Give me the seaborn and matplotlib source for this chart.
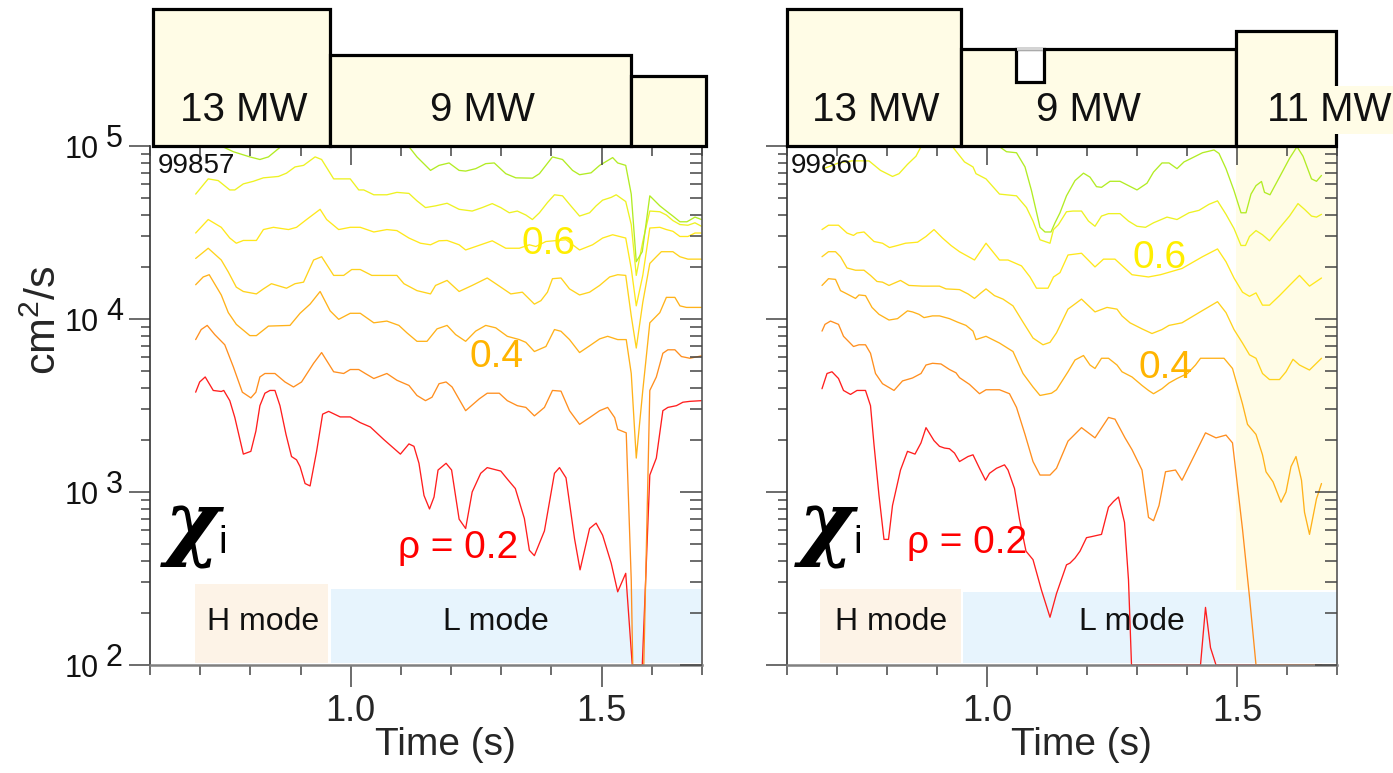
import numpy as np
import pandas as pd
import matplotlib
matplotlib.use("Agg")
import matplotlib.pyplot as plt
import matplotlib.transforms as mtransforms
from matplotlib.ticker import FixedLocator, NullFormatter, LogLocator
import seaborn as sns

# ---------------------------------------------------------------- data
time_ticks_major = [1.0, 1.5]
time_tick_labels = ["1.0", "1.5"]
time_ticks_minor = [0.6, 0.7, 0.8, 0.9, 1.1, 1.2, 1.3, 1.4, 1.6, 1.7]
chi_decades = [1e2, 1e3, 1e4, 1e5]
chi_decade_exponents = ["2", "3", "4", "5"]
rho_levels = ["0.2", "0.3", "0.4", "0.5", "0.6", "0.7", "0.8"]
rho_colors = ["#ff1e1e", "#ff8f1f", "#ffb21a", "#ffd31c", "#ffe81c", "#eef222", "#b2ec24"]

# shot 99857 : (time [s], log10 chi_i [cm^2/s])
s99857_rho02 = [(0.691, 3.577), (0.699, 3.636), (0.710, 3.665), (0.726, 3.587), (0.742, 3.581), (0.747, 3.587),
                (0.759, 3.528), (0.769, 3.431), (0.786, 3.219), (0.801, 3.235), (0.811, 3.352), (0.819, 3.499),
                (0.829, 3.571), (0.839, 3.587), (0.849, 3.587), (0.859, 3.499), (0.871, 3.333), (0.882, 3.205),
                (0.892, 3.186), (0.899, 3.147), (0.909, 3.049), (0.919, 3.035), (0.932, 3.235), (0.944, 3.450),
                (0.956, 3.466), (0.979, 3.434), (0.999, 3.434), (1.019, 3.401), (1.039, 3.376), (1.066, 3.303),
                (1.099, 3.219), (1.116, 3.278), (1.126, 3.264), (1.136, 3.166), (1.146, 2.980), (1.157, 2.902),
                (1.166, 2.971), (1.174, 3.127), (1.190, 3.166), (1.201, 3.127), (1.216, 2.843), (1.229, 2.789),
                (1.242, 3.000), (1.259, 3.108), (1.272, 3.141), (1.299, 3.121), (1.314, 3.068), (1.328, 3.020),
                (1.346, 2.847), (1.356, 2.663), (1.366, 2.632), (1.386, 2.775), (1.406, 3.108), (1.416, 3.141),
                (1.429, 3.082), (1.446, 2.730), (1.457, 2.550), (1.476, 2.789), (1.489, 2.820), (1.502, 2.750),
                (1.519, 2.589), (1.532, 2.423), (1.548, 2.530), (1.561, 2.000), (1.581, 2.000), (1.596, 3.098),
                (1.609, 3.196), (1.622, 3.470), (1.632, 3.489), (1.649, 3.499), (1.662, 3.519), (1.676, 3.524),
                (1.699, 3.528)]
s99857_rho03 = [(0.691, 3.881), (0.702, 3.939), (0.714, 3.963), (0.729, 3.910), (0.749, 3.851), (0.766, 3.724),
                (0.784, 3.577), (0.801, 3.544), (0.811, 3.577), (0.819, 3.665), (0.829, 3.685), (0.849, 3.685),
                (0.869, 3.636), (0.886, 3.607), (0.902, 3.636), (0.926, 3.744), (0.942, 3.806), (0.966, 3.695),
                (0.986, 3.685), (0.999, 3.708), (1.016, 3.708), (1.029, 3.685), (1.046, 3.656), (1.072, 3.685),
                (1.092, 3.646), (1.116, 3.616), (1.132, 3.558), (1.149, 3.528), (1.162, 3.548), (1.176, 3.626),
                (1.190, 3.636), (1.202, 3.607), (1.229, 3.470), (1.256, 3.538), (1.272, 3.571), (1.296, 3.571),
                (1.312, 3.528), (1.332, 3.499), (1.349, 3.489), (1.366, 3.440), (1.386, 3.489), (1.402, 3.587),
                (1.419, 3.583), (1.436, 3.470), (1.456, 3.391), (1.476, 3.430), (1.496, 3.470), (1.512, 3.489),
                (1.526, 3.430), (1.532, 3.362), (1.549, 3.342), (1.559, 2.491), (1.562, 2.000), (1.584, 2.000),
                (1.596, 3.587), (1.609, 3.665), (1.622, 3.802), (1.632, 3.822), (1.646, 3.822), (1.659, 3.783),
                (1.676, 3.773), (1.699, 3.787)]
s99857_rho04 = [(0.691, 4.198), (0.706, 4.243), (0.718, 4.256), (0.742, 4.139), (0.756, 4.037), (0.772, 3.969),
                (0.799, 3.904), (0.812, 3.904), (0.836, 3.959), (0.879, 3.963), (0.899, 4.033), (0.919, 4.086),
                (0.939, 4.159), (0.959, 4.047), (0.976, 3.998), (0.999, 4.033), (1.019, 4.033), (1.046, 3.978),
                (1.072, 3.988), (1.096, 3.963), (1.112, 3.920), (1.132, 3.871), (1.152, 3.871), (1.172, 3.943),
                (1.192, 3.963), (1.209, 3.910), (1.229, 3.871), (1.249, 3.930), (1.269, 3.963), (1.289, 3.949),
                (1.312, 3.900), (1.336, 3.881), (1.349, 3.865), (1.366, 3.812), (1.389, 3.841), (1.406, 3.939),
                (1.419, 3.929), (1.436, 3.881), (1.456, 3.806), (1.476, 3.845), (1.496, 3.885), (1.512, 3.900),
                (1.532, 3.881), (1.549, 3.881), (1.559, 3.685), (1.569, 3.196), (1.582, 3.587), (1.596, 3.978),
                (1.616, 4.037), (1.629, 4.125), (1.646, 4.125), (1.656, 4.076), (1.669, 4.067), (1.699, 4.067)]
s99857_rho05 = [(0.691, 4.350), (0.716, 4.409), (0.742, 4.341), (0.756, 4.272), (0.772, 4.184), (0.786, 4.159),
                (0.812, 4.145), (0.826, 4.174), (0.842, 4.204), (0.872, 4.178), (0.889, 4.204), (0.906, 4.213),
                (0.926, 4.341), (0.942, 4.360), (0.966, 4.252), (0.986, 4.252), (1.002, 4.286), (1.019, 4.286),
                (1.042, 4.252), (1.092, 4.252), (1.106, 4.204), (1.132, 4.164), (1.159, 4.145), (1.169, 4.194),
                (1.192, 4.223), (1.216, 4.159), (1.242, 4.194), (1.272, 4.237), (1.289, 4.204), (1.319, 4.145),
                (1.342, 4.155), (1.366, 4.086), (1.379, 4.106), (1.392, 4.155), (1.402, 4.233), (1.419, 4.237),
                (1.436, 4.174), (1.456, 4.139), (1.476, 4.155), (1.496, 4.194), (1.516, 4.243), (1.532, 4.256),
                (1.548, 4.252), (1.559, 4.018), (1.569, 3.832), (1.582, 4.096), (1.596, 4.321), (1.609, 4.360),
                (1.619, 4.389), (1.642, 4.389), (1.656, 4.360), (1.672, 4.346), (1.699, 4.346)]
s99857_rho06 = [(0.691, 4.497), (0.716, 4.575), (0.742, 4.530), (0.759, 4.468), (0.772, 4.438), (0.786, 4.454),
                (0.812, 4.454), (0.826, 4.517), (0.846, 4.530), (0.876, 4.517), (0.892, 4.530), (0.912, 4.575),
                (0.939, 4.634), (0.952, 4.575), (0.976, 4.517), (0.999, 4.530), (1.019, 4.530), (1.046, 4.503),
                (1.072, 4.517), (1.092, 4.511), (1.116, 4.468), (1.139, 4.438), (1.159, 4.429), (1.176, 4.452),
                (1.192, 4.454), (1.216, 4.429), (1.229, 4.399), (1.249, 4.419), (1.282, 4.452), (1.309, 4.409),
                (1.336, 4.409), (1.356, 4.429), (1.369, 4.419), (1.389, 4.448), (1.429, 4.458), (1.456, 4.399),
                (1.482, 4.429), (1.502, 4.468), (1.522, 4.487), (1.548, 4.468), (1.559, 4.292), (1.569, 4.076),
                (1.582, 4.252), (1.596, 4.526), (1.616, 4.530), (1.629, 4.517), (1.642, 4.507), (1.656, 4.477),
                (1.672, 4.477), (1.686, 4.497), (1.699, 4.497)]
s99857_rho07 = [(0.691, 4.722), (0.716, 4.810), (0.736, 4.800), (0.759, 4.746), (0.769, 4.746), (0.786, 4.781),
                (0.806, 4.796), (0.826, 4.816), (0.856, 4.824), (0.872, 4.843), (0.889, 4.879), (0.906, 4.888),
                (0.929, 4.937), (0.942, 4.922), (0.966, 4.810), (0.999, 4.810), (1.016, 4.746), (1.026, 4.746),
                (1.046, 4.718), (1.072, 4.718), (1.092, 4.732), (1.116, 4.726), (1.132, 4.683), (1.149, 4.644),
                (1.169, 4.654), (1.192, 4.669), (1.216, 4.634), (1.242, 4.624), (1.262, 4.644), (1.282, 4.667),
                (1.299, 4.644), (1.316, 4.614), (1.332, 4.624), (1.349, 4.601), (1.362, 4.575), (1.376, 4.614),
                (1.392, 4.673), (1.406, 4.718), (1.422, 4.712), (1.436, 4.663), (1.456, 4.595), (1.476, 4.614),
                (1.489, 4.654), (1.502, 4.687), (1.519, 4.703), (1.529, 4.718), (1.548, 4.679), (1.559, 4.546),
                (1.569, 4.252), (1.582, 4.448), (1.596, 4.624), (1.616, 4.620), (1.629, 4.601), (1.642, 4.569),
                (1.656, 4.546), (1.672, 4.542), (1.686, 4.556), (1.699, 4.536)]
s99857_rho08 = [(0.690, 5.080), (0.742, 5.000), (0.766, 4.967), (0.799, 4.937), (0.819, 4.922), (0.836, 4.937),
                (0.859, 4.992), (0.880, 5.060), (0.950, 5.100), (1.050, 5.080), (1.100, 5.030), (1.116, 4.996),
                (1.132, 4.937), (1.159, 4.859), (1.176, 4.888), (1.196, 4.902), (1.216, 4.859), (1.229, 4.855),
                (1.249, 4.869), (1.269, 4.898), (1.286, 4.902), (1.309, 4.840), (1.329, 4.816), (1.362, 4.814),
                (1.376, 4.840), (1.402, 4.937), (1.422, 4.922), (1.442, 4.859), (1.456, 4.834), (1.479, 4.845),
                (1.496, 4.888), (1.522, 4.933), (1.532, 4.902), (1.548, 4.888), (1.559, 4.722), (1.569, 4.331),
                (1.581, 4.389), (1.596, 4.712), (1.616, 4.654), (1.629, 4.624), (1.642, 4.595), (1.656, 4.562),
                (1.670, 4.562), (1.686, 4.589), (1.699, 4.575)]

# shot 99860
s99860_rho02 = [(0.670, 3.597), (0.680, 3.685), (0.690, 3.695), (0.703, 3.656), (0.713, 3.587), (0.727, 3.564),
                (0.740, 3.587), (0.757, 3.587), (0.767, 3.499), (0.774, 3.274), (0.784, 2.980), (0.794, 2.726),
                (0.803, 2.726), (0.811, 2.922), (0.827, 3.127), (0.841, 3.235), (0.856, 3.219), (0.868, 3.284),
                (0.878, 3.372), (0.894, 3.297), (0.905, 3.264), (0.915, 3.254), (0.925, 3.250), (0.935, 3.225),
                (0.945, 3.176), (0.962, 3.205), (0.972, 3.215), (0.985, 3.137), (0.997, 3.068), (1.005, 3.108),
                (1.019, 3.137), (1.035, 3.157), (1.042, 3.127), (1.055, 3.020), (1.065, 2.843), (1.078, 2.658),
                (1.092, 2.609), (1.109, 2.432), (1.126, 2.276), (1.139, 2.413), (1.159, 2.579), (1.166, 2.589),
                (1.176, 2.618), (1.186, 2.658), (1.199, 2.736), (1.209, 2.742), (1.229, 2.755), (1.243, 2.912),
                (1.253, 2.945), (1.263, 2.971), (1.275, 2.824), (1.283, 2.491), (1.289, 2.000), (1.427, 2.000),
                (1.437, 2.333), (1.447, 2.100), (1.458, 2.000), (1.669, 2.000)]
s99860_rho03 = [(0.670, 3.930), (0.676, 3.969), (0.687, 3.988), (0.703, 3.969), (0.713, 3.900), (0.733, 3.841),
                (0.744, 3.851), (0.757, 3.851), (0.767, 3.802), (0.777, 3.685), (0.791, 3.626), (0.814, 3.587),
                (0.831, 3.642), (0.851, 3.659), (0.868, 3.685), (0.878, 3.734), (0.891, 3.744), (0.908, 3.740),
                (0.925, 3.708), (0.938, 3.689), (0.945, 3.661), (0.965, 3.622), (0.985, 3.568), (0.998, 3.591),
                (1.025, 3.591), (1.045, 3.568), (1.059, 3.489), (1.076, 3.333), (1.092, 3.176), (1.106, 3.098),
                (1.126, 3.098), (1.139, 3.137), (1.162, 3.294), (1.189, 3.372), (1.216, 3.313), (1.243, 3.431),
                (1.256, 3.421), (1.276, 3.313), (1.290, 3.245), (1.310, 3.127), (1.323, 2.853), (1.333, 2.834),
                (1.344, 2.922), (1.357, 3.117), (1.377, 3.127), (1.390, 3.068), (1.417, 3.225), (1.437, 3.342),
                (1.458, 3.313), (1.478, 3.329), (1.491, 3.284), (1.511, 2.785), (1.525, 2.393), (1.538, 2.000),
                (1.669, 2.000)]
s99860_rho04 = [(0.670, 4.194), (0.683, 4.233), (0.697, 4.229), (0.707, 4.164), (0.720, 4.145), (0.737, 4.119),
                (0.744, 4.139), (0.757, 4.135), (0.770, 4.067), (0.784, 4.027), (0.804, 3.994), (0.821, 4.002),
                (0.841, 4.047), (0.851, 4.041), (0.864, 4.027), (0.874, 4.008), (0.891, 4.018), (0.905, 4.018),
                (0.925, 4.002), (0.941, 3.982), (0.958, 3.963), (0.972, 3.930), (0.978, 3.881), (0.998, 3.900),
                (1.025, 3.861), (1.052, 3.812), (1.072, 3.685), (1.092, 3.607), (1.106, 3.558), (1.129, 3.571),
                (1.139, 3.591), (1.162, 3.695), (1.176, 3.763), (1.193, 3.789), (1.206, 3.734), (1.216, 3.714),
                (1.229, 3.773), (1.243, 3.773), (1.260, 3.734), (1.270, 3.695), (1.290, 3.665), (1.310, 3.616),
                (1.323, 3.587), (1.333, 3.568), (1.350, 3.597), (1.364, 3.630), (1.380, 3.656), (1.401, 3.685),
                (1.417, 3.734), (1.427, 3.773), (1.451, 3.773), (1.474, 3.773), (1.491, 3.714), (1.511, 3.509),
                (1.521, 3.391), (1.538, 3.333), (1.551, 3.215), (1.558, 3.117), (1.572, 3.059), (1.588, 2.941),
                (1.598, 3.000), (1.608, 3.147), (1.618, 3.205), (1.629, 3.068), (1.635, 2.883), (1.645, 2.755),
                (1.659, 2.961), (1.669, 3.049)]
s99860_rho05 = [(0.670, 4.360), (0.683, 4.389), (0.697, 4.389), (0.707, 4.360), (0.720, 4.295), (0.737, 4.282),
                (0.754, 4.282), (0.767, 4.252), (0.780, 4.217), (0.791, 4.213), (0.804, 4.194), (0.827, 4.223),
                (0.844, 4.194), (0.871, 4.190), (0.905, 4.190), (0.918, 4.174), (0.945, 4.170), (0.962, 4.145),
                (0.975, 4.119), (0.988, 4.151), (0.998, 4.174), (1.015, 4.135), (1.032, 4.115), (1.052, 4.076),
                (1.072, 3.982), (1.092, 3.890), (1.112, 3.851), (1.126, 3.865), (1.139, 3.920), (1.162, 4.057),
                (1.189, 4.115), (1.216, 4.041), (1.240, 4.067), (1.260, 4.057), (1.270, 4.018), (1.286, 3.978),
                (1.310, 3.943), (1.330, 3.916), (1.350, 3.939), (1.364, 3.963), (1.390, 3.978), (1.424, 4.037),
                (1.461, 4.100), (1.478, 4.037), (1.494, 3.939), (1.511, 3.861), (1.525, 3.793), (1.538, 3.773),
                (1.551, 3.685), (1.565, 3.650), (1.585, 3.650), (1.598, 3.695), (1.612, 3.767), (1.625, 3.734),
                (1.645, 3.705), (1.669, 3.773)]
s99860_rho06 = [(0.670, 4.517), (0.683, 4.542), (0.703, 4.542), (0.720, 4.497), (0.733, 4.483), (0.740, 4.497),
                (0.754, 4.503), (0.774, 4.448), (0.791, 4.438), (0.805, 4.413), (0.821, 4.425), (0.837, 4.438),
                (0.861, 4.444), (0.878, 4.477), (0.894, 4.517), (0.911, 4.468), (0.928, 4.425), (0.945, 4.389),
                (0.975, 4.341), (0.998, 4.438), (1.025, 4.341), (1.042, 4.341), (1.069, 4.307), (1.086, 4.243),
                (1.099, 4.178), (1.122, 4.178), (1.133, 4.243), (1.146, 4.268), (1.162, 4.370), (1.189, 4.380),
                (1.216, 4.301), (1.233, 4.346), (1.256, 4.346), (1.290, 4.256), (1.323, 4.243), (1.347, 4.256),
                (1.390, 4.292), (1.431, 4.360), (1.461, 4.405), (1.478, 4.331), (1.494, 4.237), (1.511, 4.155),
                (1.525, 4.131), (1.538, 4.151), (1.551, 4.080), (1.565, 4.080), (1.585, 4.135), (1.605, 4.194),
                (1.625, 4.252), (1.645, 4.190), (1.669, 4.237)]
s99860_rho07 = [(0.673, 4.869), (0.703, 4.902), (0.730, 4.914), (0.764, 4.914), (0.787, 4.859), (0.811, 4.824),
                (0.824, 4.840), (0.841, 4.894), (0.858, 4.941), (0.868, 4.996), (0.900, 5.050), (0.931, 4.996),
                (0.955, 4.908), (0.972, 4.879), (0.978, 4.840), (0.998, 4.810), (1.025, 4.722), (1.059, 4.712),
                (1.079, 4.644), (1.092, 4.566), (1.106, 4.458), (1.126, 4.438), (1.133, 4.517), (1.143, 4.546),
                (1.159, 4.620), (1.172, 4.624), (1.189, 4.624), (1.203, 4.566), (1.216, 4.536), (1.229, 4.595),
                (1.243, 4.609), (1.266, 4.609), (1.283, 4.566), (1.300, 4.536), (1.317, 4.530), (1.333, 4.556),
                (1.360, 4.589), (1.380, 4.575), (1.404, 4.614), (1.424, 4.628), (1.444, 4.663), (1.461, 4.683),
                (1.478, 4.605), (1.494, 4.523), (1.508, 4.425), (1.517, 4.425), (1.525, 4.477), (1.538, 4.511),
                (1.551, 4.487), (1.565, 4.452), (1.585, 4.526), (1.605, 4.595), (1.622, 4.667), (1.635, 4.634),
                (1.649, 4.595), (1.659, 4.589), (1.669, 4.605)]
s99860_rho08 = [(0.670, 5.100), (0.800, 5.100), (0.950, 5.080), (1.000, 5.050), (1.025, 4.996), (1.039, 4.967),
                (1.059, 4.961), (1.076, 4.879), (1.089, 4.742), (1.106, 4.530), (1.116, 4.503), (1.128, 4.503),
                (1.136, 4.556), (1.146, 4.614), (1.159, 4.712), (1.176, 4.800), (1.193, 4.843), (1.206, 4.820),
                (1.219, 4.765), (1.229, 4.761), (1.246, 4.796), (1.266, 4.796), (1.283, 4.771), (1.300, 4.746),
                (1.320, 4.785), (1.333, 4.849), (1.350, 4.902), (1.364, 4.902), (1.380, 4.869), (1.394, 4.908),
                (1.404, 4.922), (1.431, 4.961), (1.454, 4.977), (1.464, 4.957), (1.478, 4.869), (1.494, 4.742),
                (1.508, 4.614), (1.518, 4.614), (1.528, 4.722), (1.538, 4.771), (1.549, 4.795), (1.555, 4.732),
                (1.566, 4.718), (1.585, 4.820), (1.605, 4.928), (1.620, 4.996), (1.632, 4.941), (1.649, 4.810),
                (1.659, 4.796), (1.669, 4.830)]

# heating power (MW) boxes above each panel
power_99857_start = [0.605, 0.959, 1.559]
power_99857_end = [0.959, 1.559, 1.707]
power_99857_mw = [13.0, 8.65, 6.6]
power_99857_text = ["13 MW", "9 MW", ""]
power_99860_start = [0.600, 0.947, 1.497]
power_99860_end = [0.947, 1.497, 1.697]
power_99860_mw = [13.0, 9.2, 10.9]
power_99860_text = ["13 MW", "9 MW", "11 MW"]
notch_99860 = (1.058, 1.114, 6.07)   # start, end, lowest power of the brief drop

# confinement-mode intervals
hmode_99857 = (0.690, 0.955)
lmode_99857 = (0.960, 1.700)
hmode_99860 = (0.666, 0.948)
lmode_99860 = (0.951, 1.700)
highpower_99860 = (1.497, 1.700)

# ---------------------------------------------------------------- style
sns.set_theme(style="white")
plt.rcParams["font.family"] = ["Liberation Sans", "DejaVu Sans"]
plt.rcParams["mathtext.fontset"] = "custom"
plt.rcParams["mathtext.rm"] = "Liberation Sans"
plt.rcParams["mathtext.it"] = "Liberation Sans:italic"
plt.rcParams["mathtext.bf"] = "Liberation Sans:bold"

W, H = 1393, 773
fig = plt.figure(figsize=(W / 100, H / 100), dpi=100)
fig.patch.set_facecolor("white")

CREAM = "#fffce6"
HCOL = "#fdf3e7"
LCOL = "#e7f4fd"
TICKC = "#444444"
AX_TOP, AX_BOT = 146, 665
palette = dict(zip(rho_levels, rho_colors))


def build_frame(series):
    rows = []
    for rho, pts in zip(rho_levels, series):
        for t, lg in pts:
            rows.append({"rho": rho, "time": t, "chi": 10.0 ** lg})
    return pd.DataFrame(rows)


def draw_panel(lpx, rpx, shot, series, p_start, p_end, p_mw, p_text, hmode, lmode,
               hmode_top, lmode_top, first, notch=None, cream=None, lab=None):
    ax = fig.add_axes([lpx / W, 1 - AX_BOT / H, (rpx - lpx) / W, (AX_BOT - AX_TOP) / H])
    ax.set_facecolor("white")

    # mode shading
    ax.axvspan(hmode[0], hmode[1], ymin=0.004, ymax=hmode_top, color=HCOL, lw=0, zorder=0)
    ax.axvspan(lmode[0], lmode[1], ymin=0.004, ymax=lmode_top, color=LCOL, lw=0, zorder=0)
    if cream is not None:
        ax.axvspan(cream[0], cream[1], ymin=0.145, ymax=1.0, color=CREAM, lw=0, zorder=0)

    df = build_frame(series)
    sns.lineplot(data=df, x="time", y="chi", hue="rho", hue_order=rho_levels, palette=palette,
                 estimator=None, sort=False, legend=False, linewidth=0.95, ax=ax)

    ax.set_yscale("log")
    ax.set_ylim(1e2, 1e5)
    ax.set_xlim(0.6, 1.7)
    ax.set_xlabel("")
    ax.set_ylabel("")

    ax.xaxis.set_major_locator(FixedLocator(time_ticks_major))
    ax.xaxis.set_minor_locator(FixedLocator(time_ticks_minor))
    ax.set_xticklabels(time_tick_labels)
    ax.yaxis.set_major_locator(FixedLocator(chi_decades))
    ax.yaxis.set_minor_locator(LogLocator(base=10, subs=range(2, 10)))
    ax.yaxis.set_major_formatter(NullFormatter())
    ax.yaxis.set_minor_formatter(NullFormatter())
    ax.tick_params(axis="x", which="major", direction="out", length=16, width=1.1, color=TICKC,
                   labelsize=26, pad=5, bottom=True, top=False)
    ax.tick_params(axis="x", which="minor", direction="out", length=7.5, width=1.1, color=TICKC,
                   bottom=True, top=False)
    ax.tick_params(axis="y", which="major", direction="out", length=15, width=1.1, color=TICKC,
                   left=True, right=False)
    ax.tick_params(axis="y", which="minor", direction="out", length=6.5, width=1.1, color=TICKC,
                   left=True, right=False)

    ax.spines["top"].set_visible(False)
    ax.spines["left"].set_color("#333333")
    ax.spines["left"].set_linewidth(1.2)
    ax.spines["right"].set_color("#555555")
    ax.spines["right"].set_linewidth(1.2)
    ax.spines["bottom"].set_color("#808080")
    ax.spines["bottom"].set_linewidth(1.8)

    # inward ticks on the right and top
    axr = ax.twinx()
    axr.set_yscale("log")
    axr.set_ylim(1e2, 1e5)
    axr.yaxis.set_major_locator(FixedLocator(chi_decades))
    axr.yaxis.set_minor_locator(LogLocator(base=10, subs=range(2, 10)))
    axr.yaxis.set_major_formatter(NullFormatter())
    axr.yaxis.set_minor_formatter(NullFormatter())
    axr.tick_params(axis="y", which="major", direction="in", length=16, width=1.1, color=TICKC, right=True)
    axr.tick_params(axis="y", which="minor", direction="in", length=8.5, width=1.1, color=TICKC, right=True)
    axt = ax.twiny()
    axt.set_xlim(0.6, 1.7)
    axt.xaxis.set_major_locator(FixedLocator(time_ticks_major))
    axt.xaxis.set_minor_locator(FixedLocator(time_ticks_minor))
    axt.xaxis.set_major_formatter(NullFormatter())
    axt.xaxis.set_minor_formatter(NullFormatter())
    axt.tick_params(axis="x", which="major", direction="in", length=14, width=1.1, color=TICKC, top=True)
    axt.tick_params(axis="x", which="minor", direction="in", length=7, width=1.1, color=TICKC, top=True)
    for tw in (axr, axt):
        for s in tw.spines.values():
            s.set_visible(False)

    # x label
    ax.set_xlabel("Time (s)", fontsize=28)
    ax.xaxis.set_label_coords(0.535, -0.12)
    ax.xaxis.label.set_va("top")

    # y tick labels (10 with raised exponent of equal size) and y label on first panel only
    if first:
        trans = mtransforms.blended_transform_factory(ax.transAxes, ax.transData)
        tr10 = mtransforms.offset_copy(trans, fig=fig, x=0, y=-3, units="points")
        trexp = mtransforms.offset_copy(trans, fig=fig, x=0, y=5, units="points")
        for v, e in zip(chi_decades, chi_decade_exponents):
            ax.text(-0.093, v, "10", transform=tr10, ha="right", va="center", fontsize=22, color="#111111")
            ax.text(-0.080, v, e, transform=trexp, ha="left", va="center", fontsize=22, color="#111111")
        ax.set_ylabel("cm$^{2}$/s", fontsize=31)
        ax.yaxis.set_label_coords(-0.19, 0.665)
        ax.yaxis.label.set_va("center")

    # annotations
    ax.text(0.0145 if first else 0.006, 0.9865, shot, transform=ax.transAxes, ha="left", va="top",
            fontsize=20, color="#111111")
    ax.text(0.026 if first else 0.022, 0.2216, "\u03c7", transform=ax.transAxes, ha="left",
            va="baseline", fontsize=60, family="DejaVu Serif", style="italic", weight="bold", color="black")
    ax.text(0.124 if first else 0.120, 0.216, "i", transform=ax.transAxes, ha="left", va="baseline",
            fontsize=28, color="black")
    tx = mtransforms.blended_transform_factory(ax.transData, ax.transAxes)
    ax.text((hmode[0] + hmode[1]) / 2 + 0.002, 0.083, "H mode", transform=tx, ha="center", va="center",
            fontsize=23, color="#111111")
    ax.text(1.289, 0.083, "L mode", transform=tx, ha="center", va="center", fontsize=23, color="#111111")
    for (x, y, s, c) in lab:
        ax.text(x, y, s, ha="center", va="center", fontsize=28, color=c, zorder=5)

    # power boxes
    pax = fig.add_axes([lpx / W, 1 - AX_TOP / H, (rpx - lpx) / W, (AX_TOP - 9) / H])
    pax.set_xlim(0.6, 1.7)
    pax.set_ylim(0, 13)
    pax.axis("off")
    starts = np.array(p_start)
    widths = np.array(p_end) - starts
    pax.bar(starts, p_mw, width=widths, align="edge", color=CREAM, edgecolor="black", linewidth=2.3,
            clip_on=False, zorder=2)
    if notch is not None:
        n0, n1, nlow = notch
        top = p_mw[1]
        pax.bar([n0], [top - nlow], width=n1 - n0, bottom=nlow, align="edge", color="white",
                edgecolor="black", linewidth=2.3, clip_on=False, zorder=3)
        pax.plot([n0 + 0.002, n1 - 0.002], [top, top], color="#d4d4d4", lw=2.6, solid_capstyle="butt",
                 clip_on=False, zorder=4)
    for s0, s1, txt in zip(p_start, p_end, p_text):
        if not txt:
            continue
        if txt == "11 MW":
            pax.text(1.684, 3.4, txt, ha="center", va="center", fontsize=29, color="#111111", zorder=5,
                     clip_on=False, bbox=dict(boxstyle="square,pad=0.12", fc=CREAM, ec="none"))
        elif txt == "9 MW" and notch is not None:
            pax.text(1.203, 3.4, txt, ha="center", va="center", fontsize=29, color="#111111", zorder=5)
        else:
            pax.text((s0 + s1) / 2 + 0.004, 3.4, txt, ha="center", va="center", fontsize=29,
                     color="#111111", zorder=5)
    return ax


series_99857 = [s99857_rho02, s99857_rho03, s99857_rho04, s99857_rho05, s99857_rho06, s99857_rho07, s99857_rho08]
series_99860 = [s99860_rho02, s99860_rho03, s99860_rho04, s99860_rho05, s99860_rho06, s99860_rho07, s99860_rho08]

labels_99857 = [(1.395, 2.70e4, "0.6", "#ffee00"), (1.291, 6.03e3, "0.4", "#ffb400"),
                (1.215, 4.74e2, "\u03c1 = 0.2", "#ff0000")]
labels_99860 = [(1.346, 2.25e4, "0.6", "#ffee00"), (1.356, 5.2e3, "0.4", "#ffb400"),
                (0.960, 5.07e2, "\u03c1 = 0.2", "#ff0000")]

draw_panel(150, 702, "99857", series_99857, power_99857_start, power_99857_end, power_99857_mw,
           power_99857_text, hmode_99857, lmode_99857, 0.156, 0.146, True, lab=labels_99857)
draw_panel(787, 1337, "99860", series_99860, power_99860_start, power_99860_end, power_99860_mw,
           power_99860_text, hmode_99860, lmode_99860, 0.146, 0.141, False, notch=notch_99860,
           cream=highpower_99860, lab=labels_99860)

fig.savefig("out.png", dpi=100, facecolor="white")
